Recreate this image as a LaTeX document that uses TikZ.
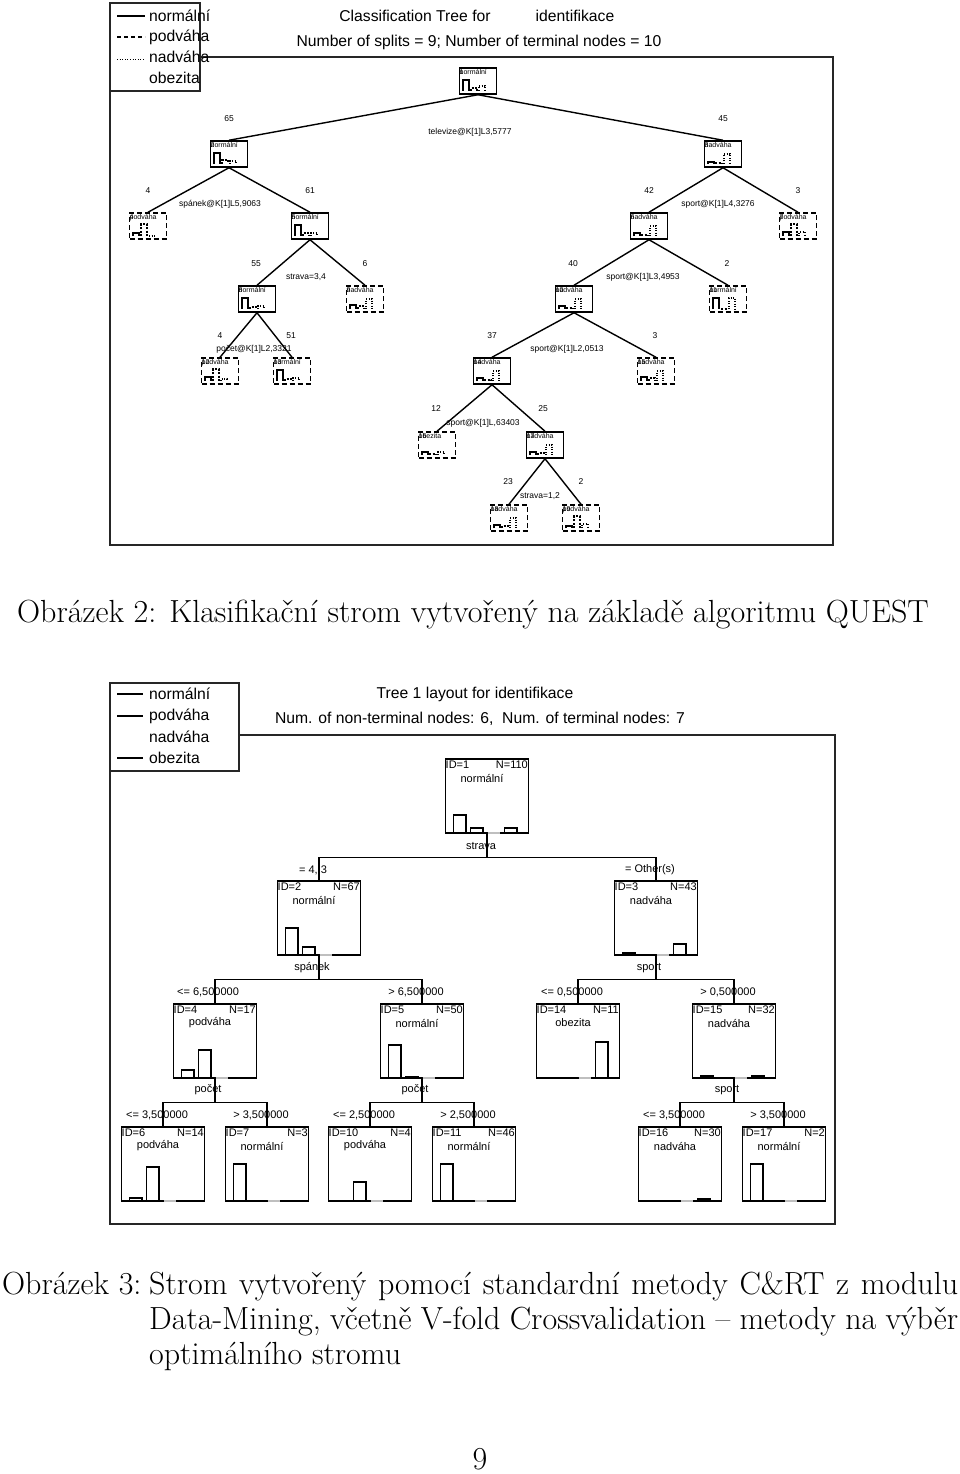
\documentclass[tikz,border=0pt]{standalone}
\usepackage{fontspec}
\newfontfamily\arialf{Liberation Sans}
\newcommand\capfont{\fontsize{32}{35}\selectfont}
\tikzset{
  frame/.style={line width=1.5pt, draw=black!85},
  qbox/.style={draw, line width=1.5pt, minimum width=37pt, minimum height=26pt, inner sep=0pt},
  qterm/.style={qbox, dash pattern=on 5pt off 3pt},
  cbox/.style={draw, line width=1.5pt, minimum width=83pt, minimum height=74pt, inner sep=0pt},
  edge/.style={line width=1.4pt},
  hb1/.style={line width=1.1pt},
  hb2/.style={line width=1.1pt, dash pattern=on 2pt off 1.5pt},
  hb3/.style={line width=1.1pt, dash pattern=on 1pt off 1.5pt},
  cbar/.style={line width=1.6pt},
  lbl/.style={font=\arialf\fontsize{8.5}{10}\selectfont, inner sep=0pt},
  big/.style={font=\arialf\fontsize{15.7}{18}\selectfont, inner sep=0pt},
  tinyl/.style={font=\arialf\fontsize{7}{8}\selectfont, inner sep=0pt, anchor=north west},
  idl/.style={font=\arialf\fontsize{11}{12}\selectfont, inner sep=0pt},
  captxt/.style={font=\capfont, inner sep=0pt},
}
\newcommand\qnd[9]{%
  \node[#4] (#1) at (#2,#3+13) {};
  \node[tinyl] at (#2-18.5,#3+1.5) {#6};
  \node[tinyl] at (#2-18.5,#3+1.5) {#5};
  \draw[hb1] (#2-15,#3+23) |- (#2-9,#3+23-#7) -- (#2-9,#3+23);
  \draw[hb2] (#2-7,#3+23) |- (#2-1,#3+23-#8) -- (#2-1,#3+23);
  \draw[hb3] (#2+1,#3+23) |- (#2+7,#3+23-#9) -- (#2+7,#3+23);
}
\newcommand\cnd[9]{%
  \node[cbox] (#1) at (#2,#3+37) {};
  \draw[line width=1.6pt, black!25] (#2+0.5,#3+74) -- (#2+13,#3+74);
  \node[idl, anchor=north west] at (#2-41.5,#3+1.5) {ID=#4};
  \node[idl, anchor=north east] at (#2+41,#3+1.5) {N=#5};
  \node[idl] at (#2-5,#3+19) {#6};
  \draw[cbar] (#2-33.5,#3+74) rectangle (#2-21,#3+74-#7);
  \draw[cbar] (#2-16.5,#3+74) rectangle (#2-4,#3+74-#8);
  \draw[cbar] (#2+17.5,#3+74) rectangle (#2+30,#3+74-#9);
}
\begin{document}
\begin{tikzpicture}[x=1pt,y=-1pt]
\useasboundingbox[fill=white] (0,0) rectangle (960,1474);

% ================= Figure 2 (QUEST) =================
\draw[frame] (110,3) rectangle (200,91);
\draw[frame] (200,57) -- (833,57) -- (833,545) -- (110,545) -- (110,91);
\draw[line width=1.2pt] (117,16) -- (145,16);
\draw[line width=1.2pt, dash pattern=on 4pt off 3pt] (117,37) -- (145,37);
\draw[line width=1pt, dash pattern=on 1pt off 1.6pt] (117,60) -- (145,60);
\node[big, anchor=west] (lg1) at (149,16) {normální};
\node[big, anchor=west] (lg2) at (149,37) {podváha};
\node[big, anchor=west] (lg3) at (149,57) {nadváha};
\node[big, anchor=west] (lg4) at (149,78) {obezita};
\node[big] (t1a) at (415,16) {Classification Tree for};
\node[big] (t1b) at (575,16) {identifikace};
\node[big] (t1c) at (479,42) {Number of splits = 9; Number of terminal nodes = 10};

% nodes: name, cx, top, style, label, number, h1, h2, h3
\qnd{n1}{478}{68}{qbox}{normální}{1}{11}{3}{5}
\qnd{n2}{229}{141}{qbox}{normální}{2}{11}{4}{3}
\qnd{n3}{723}{141}{qbox}{nadváha}{3}{2}{1}{10}
\qnd{n4}{148}{213}{qterm}{podváha}{4}{3}{12}{0}
\qnd{n5}{310}{213}{qbox}{normální}{5}{11}{3}{3}
\qnd{n6}{649}{213}{qbox}{nadváha}{6}{3}{1}{10}
\qnd{n7}{798}{213}{qterm}{podváha}{7}{4}{12}{4}
\qnd{n8}{257}{286}{qbox}{normální}{8}{11}{2}{3}
\qnd{n9}{365}{286}{qterm}{nadváha}{9}{4}{3}{10}
\qnd{n10}{574}{286}{qbox}{nadváha}{10}{3}{1}{10}
\qnd{n11}{728}{286}{qterm}{normální}{11}{11}{0}{11}
\qnd{n12}{220}{358}{qterm}{podváha}{12}{4}{12}{2}
\qnd{n13}{292}{358}{qterm}{normální}{13}{11}{2}{3}
\qnd{n14}{492}{358}{qbox}{nadváha}{14}{3}{1}{10}
\qnd{n15}{656}{358}{qterm}{nadváha}{15}{4}{3}{10}
\qnd{n16}{437}{432}{qterm}{obezita}{16}{3}{1}{3}
\qnd{n17}{545}{432}{qbox}{nadváha}{17}{3}{2}{10}
\qnd{n18}{509}{505}{qterm}{nadváha}{18}{3}{2}{10}
\qnd{n19}{581}{505}{qterm}{podváha}{19}{2}{12}{4}

\foreach \p/\c in {n1/n2,n1/n3,n2/n4,n2/n5,n3/n6,n3/n7,n5/n8,n5/n9,n6/n10,n6/n11,n8/n12,n8/n13,n10/n14,n10/n15,n14/n16,n14/n17,n17/n18,n17/n19}
  \draw[edge] (\p.south) -- (\c.north);

% counts and split labels
\node[lbl] (c2) at (229,119) {65};
\node[lbl] (c3) at (723,119) {45};
\node[lbl] (s1) at (470,132) {televize@K[1]L3,5777};
\node[lbl] (c4) at (148,191) {4};
\node[lbl] (c5) at (310,191) {61};
\node[lbl] (c6) at (649,191) {42};
\node[lbl] (c7) at (798,191) {3};
\node[lbl] (s2) at (220,204) {spánek@K[1]L5,9063};
\node[lbl] (s3) at (718,204) {sport@K[1]L4,3276};
\node[lbl] (c8) at (256,264) {55};
\node[lbl] (c9) at (365,264) {6};
\node[lbl] (c10) at (573,264) {40};
\node[lbl] (c11) at (727,264) {2};
\node[lbl] (s5) at (306,277) {strava=3,4};
\node[lbl] (s6) at (643,277) {sport@K[1]L3,4953};
\node[lbl] (c12) at (220,336) {4};
\node[lbl] (c13) at (291,336) {51};
\node[lbl] (c14) at (492,336) {37};
\node[lbl] (c15) at (655,336) {3};
\node[lbl] (s8) at (254,349) {počet@K[1]L2,3321};
\node[lbl] (s10) at (567,349) {sport@K[1]L2,0513};
\node[lbl] (c16) at (436,409) {12};
\node[lbl] (c17) at (543,409) {25};
\node[lbl] (s14) at (483,423) {sport@K[1]L,63403};
\node[lbl] (c18) at (508,482) {23};
\node[lbl] (c19) at (581,482) {2};
\node[lbl] (s17) at (540,496) {strava=1,2};

\node[captxt, anchor=base] (cap2) at (473,622) {Obrázek 2: Klasifikační strom vytvořený na základě algoritmu QUEST};

% ================= Figure 3 (C&RT) =================
\draw[frame] (110,683) rectangle (239,771);
\draw[frame] (239,735) -- (835,735) -- (835,1224) -- (110,1224) -- (110,771);
\draw[line width=1.2pt] (117,694) -- (143,694);
\draw[line width=1.2pt] (117,716) -- (143,716);
\draw[line width=1.2pt] (117,758) -- (143,758);
\node[big, anchor=west] (mg1) at (149,694) {normální};
\node[big, anchor=west] (mg2) at (149,716) {podváha};
\node[big, anchor=west] (mg3) at (149,737) {nadváha};
\node[big, anchor=west] (mg4) at (149,758) {obezita};
\node[big] (t2a) at (475,694) {Tree 1 layout for identifikace};
\node[big] (t2b) at (480,719) {Num. of non-terminal nodes: 6,\ \ Num. of terminal nodes: 7};

% name, cx, top, ID, N, label, h1, h2, h4
\cnd{d1}{487}{759}{1}{110}{normální}{18}{5}{5}
\cnd{d2}{319}{881}{2}{67}{normální}{27}{8}{0}
\cnd{d3}{656}{881}{3}{43}{nadváha}{2}{0}{11}
\cnd{d4}{215}{1004}{4}{17}{podváha}{8}{28}{0}
\cnd{d5}{422}{1004}{5}{50}{normální}{33}{1}{0}
\cnd{d14}{578}{1004}{14}{11}{obezita}{0}{0}{36}
\cnd{d15}{734}{1004}{15}{32}{nadváha}{2}{0}{2}
\cnd{d6}{163}{1127}{6}{14}{podváha}{3}{34}{0}
\cnd{d7}{267}{1127}{7}{3}{normální}{37}{0}{0}
\cnd{d10}{370}{1127}{10}{4}{podváha}{0}{19}{0}
\cnd{d11}{474}{1127}{11}{46}{normální}{37}{0}{0}
\cnd{d16}{680}{1127}{16}{30}{nadváha}{0}{0}{2}
\cnd{d17}{784}{1127}{17}{2}{normální}{37}{0}{0}

% split variable labels
\node[idl] (v1) at (481,846) {strava};
\node[idl] (v2) at (312,968) {spánek};
\node[idl] (v3) at (649,968) {sport};
\node[idl] (v4) at (208,1090) {počet};
\node[idl] (v5) at (415,1090) {počet};
\node[idl] (v15) at (727,1090) {sport};
% branch labels
\node[idl] (e2) at (313,870) {= 4, 3};
\node[idl] (e3) at (650,870) {= Other(s)};
\node[idl] (e4) at (208,992) {<= 6,500000};
\node[idl] (e5) at (416,992) {> 6,500000};
\node[idl] (e14) at (572,992) {<= 0,500000};
\node[idl] (e15) at (728,992) {> 0,500000};
\node[idl] (e6) at (157,1115) {<= 3,500000};
\node[idl] (e7) at (261,1115) {> 3,500000};
\node[idl] (e10) at (364,1115) {<= 2,500000};
\node[idl] (e11) at (468,1115) {> 2,500000};
\node[idl] (e16) at (674,1115) {<= 3,500000};
\node[idl] (e17) at (778,1115) {> 3,500000};

% connectors
\draw[edge] (d1.south) -- ++(0,24) coordinate (b1);
\draw[edge] (d2.north) |- (b1) -| (d3.north);
\draw[edge] (d2.south) -- ++(0,24) coordinate (b2);
\draw[edge] (d4.north) |- (b2) -| (d5.north);
\draw[edge] (d3.south) -- ++(0,24) coordinate (b3);
\draw[edge] (d14.north) |- (b3) -| (d15.north);
\draw[edge] (d4.south) -- ++(0,24) coordinate (b4);
\draw[edge] (d6.north) |- (b4) -| (d7.north);
\draw[edge] (d5.south) -- ++(0,24) coordinate (b5);
\draw[edge] (d10.north) |- (b5) -| (d11.north);
\draw[edge] (d15.south) -- ++(0,24) coordinate (b15);
\draw[edge] (d16.north) |- (b15) -| (d17.north);

% caption 3 and page number
\node[captxt, anchor=base west] (cap3a) at (2,1294) {Obrázek 3:};
\node[captxt, anchor=base west] (cap3b) at (149,1294) {\makebox[809pt][s]{Strom vytvořený pomocí standardní metody C\&RT z modulu}};
\node[captxt, anchor=base west] (cap3c) at (149,1329) {\makebox[809pt][s]{Data-Mining, včetně V-fold Crossvalidation – metody na výběr}};
\node[captxt, anchor=base west] (cap3d) at (149,1364) {optimálního stromu};
\node[captxt, anchor=base] (pg) at (480,1469) {9};
\end{tikzpicture}
\end{document}
